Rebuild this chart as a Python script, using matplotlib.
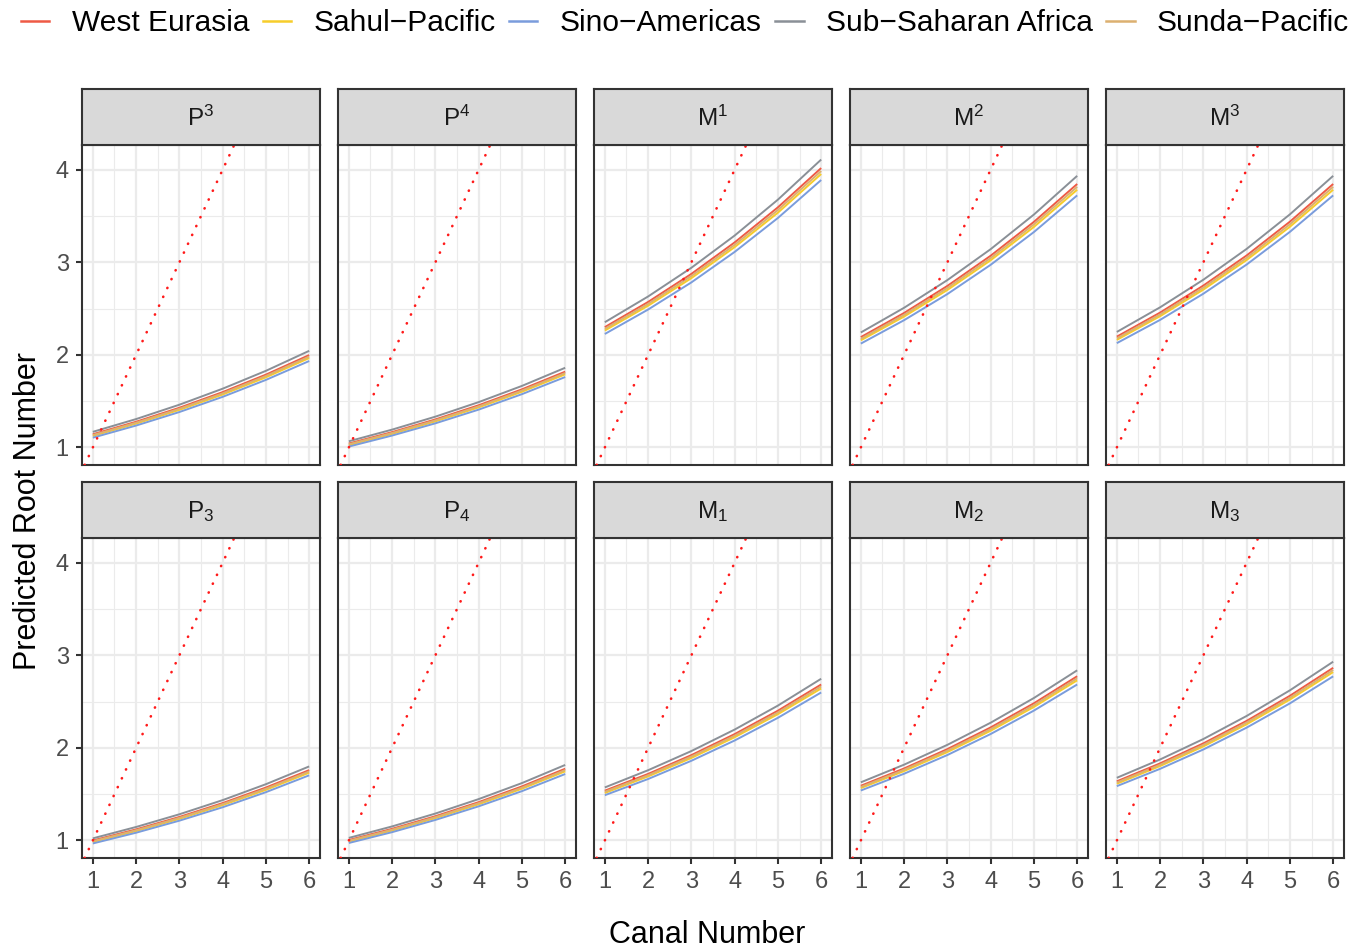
import numpy as np
import matplotlib
matplotlib.use("Agg")
import matplotlib.pyplot as plt
from matplotlib.lines import Line2D

plt.rcParams["font.family"] = ["Liberation Sans", "DejaVu Sans"]
plt.rcParams["mathtext.fontset"] = "custom"
plt.rcParams["mathtext.rm"] = "Liberation Sans"
plt.rcParams["mathtext.it"] = "Liberation Sans:italic"

# ---- data -----------------------------------------------------------------
canal_number = [1, 2, 3, 4, 5, 6]

groups = ["West Eurasia", "Sahul\u2212Pacific", "Sino\u2212Americas",
          "Sub\u2212Saharan Africa", "Sunda\u2212Pacific"]
group_colors = ["#EE5A45", "#F7CD2A", "#7A9CDC", "#8A9097", "#DCB070"]

teeth_upper = ["P3", "P4", "M1", "M2", "M3"]
teeth_lower = ["P_3", "P_4", "M_1", "M_2", "M_3"]
strip_upper = [r"P$^{\mathrm{3}}$", r"P$^{\mathrm{4}}$", r"M$^{\mathrm{1}}$",
               r"M$^{\mathrm{2}}$", r"M$^{\mathrm{3}}$"]
strip_lower = [r"P$_{\mathrm{3}}$", r"P$_{\mathrm{4}}$", r"M$_{\mathrm{1}}$",
               r"M$_{\mathrm{2}}$", r"M$_{\mathrm{3}}$"]

# predicted root number per tooth, per population, at canal number 1..6
west_eurasia = {
    "P3":  [1.143, 1.278, 1.429, 1.598, 1.787, 1.998],
    "P4":  [1.043, 1.166, 1.303, 1.456, 1.628, 1.819],
    "M1":  [2.300, 2.572, 2.875, 3.215, 3.594, 4.018],
    "M2":  [2.192, 2.453, 2.745, 3.071, 3.437, 3.846],
    "M3":  [2.197, 2.457, 2.749, 3.074, 3.439, 3.846],
    "P_3": [1.000, 1.120, 1.254, 1.404, 1.572, 1.760],
    "P_4": [1.005, 1.126, 1.262, 1.414, 1.584, 1.775],
    "M_1": [1.538, 1.719, 1.922, 2.149, 2.402, 2.685],
    "M_2": [1.591, 1.778, 1.987, 2.221, 2.482, 2.774],
    "M_3": [1.639, 1.833, 2.049, 2.292, 2.563, 2.865],
}
sahul_pacific = {
    "P3":  [1.125, 1.258, 1.406, 1.572, 1.758, 1.966],
    "P4":  [1.026, 1.147, 1.282, 1.433, 1.602, 1.790],
    "M1":  [2.263, 2.531, 2.829, 3.164, 3.536, 3.954],
    "M2":  [2.157, 2.414, 2.701, 3.022, 3.382, 3.784],
    "M3":  [2.162, 2.418, 2.705, 3.025, 3.384, 3.784],
    "P_3": [0.984, 1.102, 1.234, 1.382, 1.547, 1.732],
    "P_4": [0.989, 1.108, 1.242, 1.391, 1.559, 1.747],
    "M_1": [1.513, 1.692, 1.891, 2.115, 2.364, 2.642],
    "M_2": [1.566, 1.750, 1.955, 2.185, 2.442, 2.730],
    "M_3": [1.613, 1.804, 2.016, 2.255, 2.522, 2.819],
}
sino_americas = {
    "P3":  [1.106, 1.237, 1.383, 1.547, 1.730, 1.934],
    "P4":  [1.010, 1.129, 1.261, 1.409, 1.576, 1.761],
    "M1":  [2.226, 2.490, 2.783, 3.112, 3.479, 3.889],
    "M2":  [2.122, 2.375, 2.657, 2.973, 3.327, 3.723],
    "M3":  [2.127, 2.378, 2.661, 2.976, 3.329, 3.723],
    "P_3": [0.968, 1.084, 1.214, 1.359, 1.522, 1.704],
    "P_4": [0.973, 1.090, 1.222, 1.369, 1.533, 1.718],
    "M_1": [1.489, 1.664, 1.861, 2.080, 2.325, 2.599],
    "M_2": [1.540, 1.721, 1.923, 2.150, 2.403, 2.685],
    "M_3": [1.587, 1.774, 1.983, 2.219, 2.481, 2.773],
}
sub_saharan_africa = {
    "P3":  [1.169, 1.307, 1.462, 1.635, 1.828, 2.044],
    "P4":  [1.067, 1.193, 1.333, 1.490, 1.665, 1.861],
    "M1":  [2.353, 2.631, 2.941, 3.289, 3.677, 4.110],
    "M2":  [2.242, 2.509, 2.808, 3.142, 3.516, 3.934],
    "M3":  [2.248, 2.514, 2.812, 3.145, 3.518, 3.934],
    "P_3": [1.023, 1.146, 1.283, 1.436, 1.608, 1.800],
    "P_4": [1.028, 1.152, 1.291, 1.447, 1.620, 1.816],
    "M_1": [1.573, 1.759, 1.966, 2.198, 2.457, 2.747],
    "M_2": [1.628, 1.819, 2.033, 2.272, 2.539, 2.838],
    "M_3": [1.677, 1.875, 2.096, 2.345, 2.622, 2.931],
}
sunda_pacific = {
    "P3":  [1.134, 1.268, 1.418, 1.585, 1.773, 1.982],
    "P4":  [1.035, 1.157, 1.293, 1.444, 1.615, 1.804],
    "M1":  [2.282, 2.551, 2.852, 3.189, 3.565, 3.986],
    "M2":  [2.174, 2.433, 2.723, 3.046, 3.410, 3.815],
    "M3":  [2.179, 2.437, 2.727, 3.049, 3.411, 3.815],
    "P_3": [0.992, 1.111, 1.244, 1.393, 1.559, 1.746],
    "P_4": [0.997, 1.117, 1.252, 1.403, 1.571, 1.761],
    "M_1": [1.526, 1.705, 1.907, 2.132, 2.383, 2.664],
    "M_2": [1.578, 1.764, 1.971, 2.203, 2.462, 2.752],
    "M_3": [1.626, 1.818, 2.033, 2.274, 2.542, 2.842],
}
series = [west_eurasia, sahul_pacific, sino_americas, sub_saharan_africa, sunda_pacific]

# 1:1 reference line
ref_intercept = 0.0
ref_slope = 1.0

x_ticks = [1, 2, 3, 4, 5, 6]
y_ticks = [1, 2, 3, 4]

# ---- figure ---------------------------------------------------------------
W, H = 1362, 950
fig = plt.figure(figsize=(W / 100, H / 100), dpi=100)

col_left = [82, 338, 594, 850, 1106]
panel_w = 238
rows = [(89, 145, 465), (482, 538, 858)]   # strip top, panel top, panel bottom (px)

all_vals = np.concatenate([np.ravel(list(s.values())) for s in series])
lo, hi = all_vals.min(), all_vals.max()
ylim = (lo - 0.05 * (hi - lo), hi + 0.05 * (hi - lo))
xlim = (min(canal_number) - 0.05 * 5, max(canal_number) + 0.05 * 5)

frame_col = "#333333"
grid_col = "#EBEBEB"
tick_col = "#4D4D4D"

def fx(px):
    return px / W

def fy(py):
    return 1 - py / H

for r, (teeth, strips) in enumerate([(teeth_upper, strip_upper), (teeth_lower, strip_lower)]):
    s_top, p_top, p_bot = rows[r]
    for c, (tooth, lab) in enumerate(zip(teeth, strips)):
        x0 = col_left[c]
        ax = fig.add_axes([fx(x0), fy(p_bot), panel_w / W, (p_bot - p_top) / H])
        ax.set_xlim(*xlim)
        ax.set_ylim(*ylim)
        ax.set_xticks(x_ticks)
        ax.set_yticks(y_ticks)
        ax.set_xticks(np.arange(1.5, 6.0, 1.0), minor=True)
        ax.set_yticks([1.5, 2.5, 3.5], minor=True)
        ax.grid(True, which="major", color=grid_col, lw=1.6)
        ax.grid(True, which="minor", color=grid_col, lw=0.8)
        ax.set_axisbelow(True)
        for sp in ax.spines.values():
            sp.set_color(frame_col)
            sp.set_linewidth(1.5)
        ax.tick_params(which="minor", length=0)
        ax.tick_params(which="major", length=4.5, width=1.5, color=frame_col,
                       labelsize=17, labelcolor=tick_col, pad=5)
        if c != 0:
            ax.tick_params(axis="y", which="major", length=0, labelleft=False)
        if r == 0:
            ax.tick_params(axis="x", which="major", length=0, labelbottom=False)

        for s, col in zip(series, group_colors):
            ax.plot(canal_number, s[tooth], color=col, lw=1.4, solid_capstyle="butt", zorder=3)

        ax.axline((0, ref_intercept), slope=ref_slope, color="#FF1A1A", lw=1.9,
                  linestyle=(0, (0.1, 3.6)), dash_capstyle="round", zorder=4)

        # facet strip
        sax = fig.add_axes([fx(x0), fy(p_top), panel_w / W, (p_top - s_top) / H])
        sax.set_xlim(0, 1)
        sax.set_ylim(0, 1)
        sax.set_xticks([])
        sax.set_yticks([])
        sax.set_facecolor("#D9D9D9")
        for sp in sax.spines.values():
            sp.set_color(frame_col)
            sp.set_linewidth(1.5)
        sax.text(0.5, 0.47, lab, ha="center", va="center", fontsize=17.5, color="#1A1A1A")

# axis titles
fig.text(fx(28), fy(511), "Predicted Root Number", rotation=90, ha="center", va="center",
         fontsize=22, color="black")
fig.text(fx(707), fy(935), "Canal Number", ha="center", va="center", fontsize=22, color="black")

# legend
handles = [Line2D([0], [0], color=col, lw=1.8) for col in group_colors]
fig.legend(handles, groups, loc="center", bbox_to_anchor=(fx(685), fy(23)), ncol=5,
           frameon=False, fontsize=21.5, handlelength=0.95, handletextpad=0.75,
           columnspacing=0.45, borderpad=0, borderaxespad=0)

fig.savefig("out.png", dpi=100)
